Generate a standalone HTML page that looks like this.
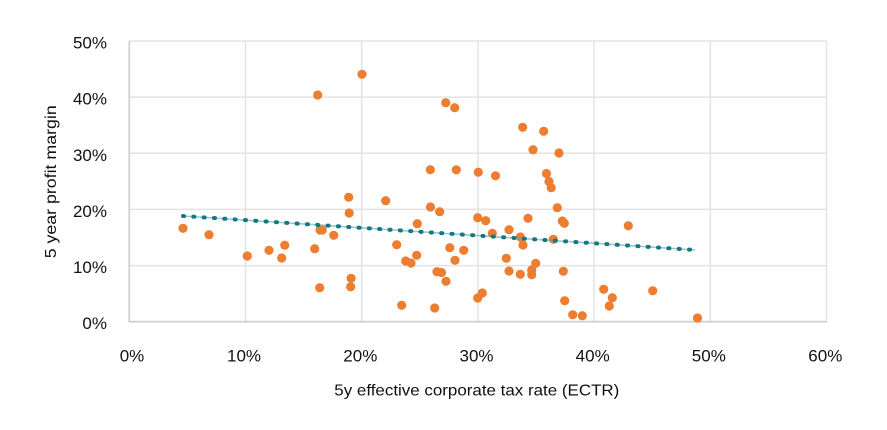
<!DOCTYPE html>
<html>
<head>
<meta charset="utf-8">
<style>
  html, body { margin: 0; padding: 0; background: #ffffff; }
  svg { display: block; }
  text { font-family: "Liberation Sans", "DejaVu Sans", sans-serif; fill: #111111; }
</style>
</head>
<body>
<svg width="887" height="430" viewBox="0 0 887 430" xmlns="http://www.w3.org/2000/svg">
  <rect x="0" y="0" width="887" height="430" fill="#ffffff"/>
  <g stroke="#e3e3e3" stroke-width="1.5">
    <line x1="129.3" y1="41" x2="826.5" y2="41"/>
    <line x1="129.3" y1="97.1" x2="826.5" y2="97.1"/>
    <line x1="129.3" y1="153.3" x2="826.5" y2="153.3"/>
    <line x1="129.3" y1="209.4" x2="826.5" y2="209.4"/>
    <line x1="129.3" y1="265.6" x2="826.5" y2="265.6"/>
    <line x1="245.5" y1="41" x2="245.5" y2="321.7"/>
    <line x1="361.7" y1="41" x2="361.7" y2="321.7"/>
    <line x1="477.9" y1="41" x2="477.9" y2="321.7"/>
    <line x1="594" y1="41" x2="594" y2="321.7"/>
    <line x1="710.3" y1="41" x2="710.3" y2="321.7"/>
    <line x1="826.5" y1="41" x2="826.5" y2="321.7"/>
  </g>
  <g stroke="#d0d0d0" stroke-width="1.8">
    <line x1="129.3" y1="41" x2="129.3" y2="322"/>
    <line x1="128.5" y1="321.7" x2="827" y2="321.7"/>
  </g>

  <g font-size="17" text-anchor="end">
    <text x="107" y="48.5">50%</text>
    <text x="107" y="104.6">40%</text>
    <text x="107" y="160.8">30%</text>
    <text x="107" y="216.9">20%</text>
    <text x="107" y="273.1">10%</text>
    <text x="107" y="329.2">0%</text>
  </g>
  <g font-size="17" text-anchor="middle">
    <text x="132" y="361.7">0%</text>
    <text x="244" y="361.7">10%</text>
    <text x="360.3" y="361.7">20%</text>
    <text x="476.5" y="361.7">30%</text>
    <text x="592.7" y="361.7">40%</text>
    <text x="708.8" y="361.7">50%</text>
    <text x="825.3" y="361.7">60%</text>
  </g>

  <text x="334.3" y="395.5" font-size="16" textLength="285" lengthAdjust="spacingAndGlyphs">5y effective corporate tax rate (ECTR)</text>
  <text transform="translate(56,258.3) rotate(-90)" x="0" y="0" font-size="16" textLength="153" lengthAdjust="spacingAndGlyphs">5 year profit margin</text>

  <g fill="#ed7d31">
    <circle cx="183" cy="228.3" r="4.6"/>
    <circle cx="209" cy="234.7" r="4.6"/>
    <circle cx="247.3" cy="256" r="4.6"/>
    <circle cx="269" cy="250.3" r="4.6"/>
    <circle cx="284.7" cy="245.2" r="4.6"/>
    <circle cx="281.7" cy="258" r="4.6"/>
    <circle cx="314.7" cy="248.7" r="4.6"/>
    <circle cx="320" cy="230" r="4.6"/>
    <circle cx="322.3" cy="230" r="4.6"/>
    <circle cx="333.7" cy="235.3" r="4.6"/>
    <circle cx="348.7" cy="197.3" r="4.6"/>
    <circle cx="349.2" cy="213" r="4.6"/>
    <circle cx="319.7" cy="287.7" r="4.6"/>
    <circle cx="351.1" cy="278.3" r="4.6"/>
    <circle cx="350.7" cy="286.8" r="4.6"/>
    <circle cx="317.7" cy="95" r="4.6"/>
    <circle cx="362" cy="74.3" r="4.6"/>
    <circle cx="385.7" cy="200.7" r="4.6"/>
    <circle cx="396.7" cy="244.7" r="4.6"/>
    <circle cx="401.7" cy="305.3" r="4.6"/>
    <circle cx="405.7" cy="261" r="4.6"/>
    <circle cx="411" cy="263" r="4.6"/>
    <circle cx="417.3" cy="223.7" r="4.6"/>
    <circle cx="416.7" cy="255.3" r="4.6"/>
    <circle cx="430.5" cy="207" r="4.6"/>
    <circle cx="439.7" cy="211.7" r="4.6"/>
    <circle cx="437" cy="271.7" r="4.6"/>
    <circle cx="441.5" cy="272.5" r="4.6"/>
    <circle cx="446" cy="281.3" r="4.6"/>
    <circle cx="434.7" cy="308" r="4.6"/>
    <circle cx="449.8" cy="247.7" r="4.6"/>
    <circle cx="455" cy="260.3" r="4.6"/>
    <circle cx="445.7" cy="102.7" r="4.6"/>
    <circle cx="454.7" cy="107.7" r="4.6"/>
    <circle cx="522.7" cy="127.3" r="4.6"/>
    <circle cx="543.7" cy="131.3" r="4.6"/>
    <circle cx="533" cy="149.7" r="4.6"/>
    <circle cx="559" cy="153" r="4.6"/>
    <circle cx="430.3" cy="169.7" r="4.6"/>
    <circle cx="456.3" cy="169.8" r="4.6"/>
    <circle cx="478.3" cy="172.2" r="4.6"/>
    <circle cx="495.5" cy="175.8" r="4.6"/>
    <circle cx="546.5" cy="173.5" r="4.6"/>
    <circle cx="549" cy="181.5" r="4.6"/>
    <circle cx="551.2" cy="187.7" r="4.6"/>
    <circle cx="477.7" cy="217.7" r="4.6"/>
    <circle cx="485.7" cy="220.7" r="4.6"/>
    <circle cx="528" cy="218.3" r="4.6"/>
    <circle cx="557.3" cy="207.7" r="4.6"/>
    <circle cx="562.3" cy="221" r="4.6"/>
    <circle cx="564.3" cy="223.3" r="4.6"/>
    <circle cx="628.3" cy="225.7" r="4.6"/>
    <circle cx="492.3" cy="233.3" r="4.6"/>
    <circle cx="509" cy="229.7" r="4.6"/>
    <circle cx="520.3" cy="237" r="4.6"/>
    <circle cx="523" cy="245" r="4.6"/>
    <circle cx="553.3" cy="239.3" r="4.6"/>
    <circle cx="463.7" cy="250.3" r="4.6"/>
    <circle cx="506.3" cy="258.3" r="4.6"/>
    <circle cx="509" cy="271" r="4.6"/>
    <circle cx="520.3" cy="274.3" r="4.6"/>
    <circle cx="531.7" cy="270" r="4.6"/>
    <circle cx="531.7" cy="274.7" r="4.6"/>
    <circle cx="535.7" cy="263.3" r="4.6"/>
    <circle cx="563.3" cy="271.3" r="4.6"/>
    <circle cx="482.3" cy="293" r="4.6"/>
    <circle cx="477.7" cy="298" r="4.6"/>
    <circle cx="564.7" cy="300.7" r="4.6"/>
    <circle cx="572.7" cy="314.7" r="4.6"/>
    <circle cx="582.3" cy="315.7" r="4.6"/>
    <circle cx="603.7" cy="289.3" r="4.6"/>
    <circle cx="612.3" cy="297.7" r="4.6"/>
    <circle cx="609.3" cy="306" r="4.6"/>
    <circle cx="652.7" cy="290.7" r="4.6"/>
    <circle cx="697.5" cy="318" r="4.6"/>
  </g>

  <line x1="183" y1="216" x2="695.3" y2="250" stroke="#5aa6ab" stroke-width="1.6" opacity="0.6"/>
  <line x1="183" y1="216" x2="695.3" y2="250" stroke="#137880" stroke-width="4" stroke-linecap="round" stroke-dasharray="1 9.35"/>
</svg>
</body>
</html>
